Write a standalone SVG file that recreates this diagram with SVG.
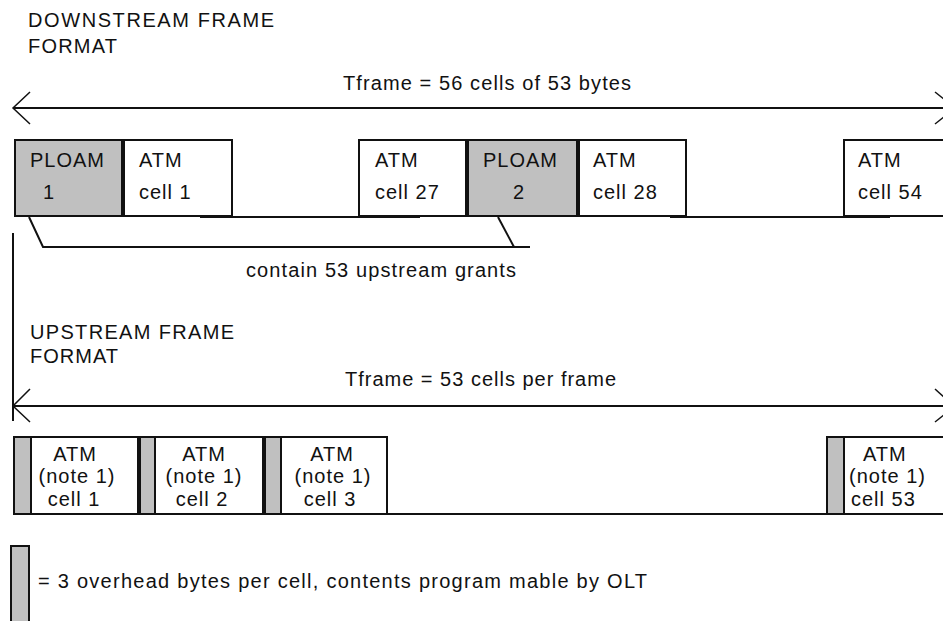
<svg xmlns="http://www.w3.org/2000/svg" width="943" height="621" viewBox="0 0 943 621">
<style>
text{font-family:"Liberation Sans",Arial,sans-serif;font-size:20px;fill:#111;letter-spacing:1px}
.box{fill:#fff;stroke:#111;stroke-width:2}
.oh{fill:#c0c0c0;stroke:#111;stroke-width:2}
.ln{stroke:#111;stroke-width:2;fill:none}
.thin{stroke:#111;stroke-width:1.5;fill:none}
.mid{text-anchor:middle}
</style>
<rect width="943" height="621" fill="#fff"/>
<g id="titles">
<text x="28" y="27" textLength="247" lengthAdjust="spacing">DOWNSTREAM FRAME</text>
<text x="28" y="53" textLength="90" lengthAdjust="spacing">FORMAT</text>
<text x="30" y="339" textLength="205" lengthAdjust="spacing">UPSTREAM FRAME</text>
<text x="30" y="363" textLength="89" lengthAdjust="spacing">FORMAT</text>
</g>
<g id="connectors">
<line class="ln" x1="13" y1="108" x2="945" y2="108"/>
<polyline class="thin" points="30,92 13,108 30,124"/>
<polyline class="thin" points="935,92 945,100"/>
<polyline class="thin" points="935,124 945,116"/>
<text x="343" y="90" textLength="289" lengthAdjust="spacing">Tframe = 56 cells of 53 bytes</text>
<line class="ln" x1="200" y1="217" x2="420" y2="217"/>
<line class="ln" x1="670" y1="217" x2="890" y2="217"/>
<polyline class="ln" points="29,217 43,247 530,247"/>
<line class="ln" x1="498" y1="217" x2="514" y2="247"/>
<text x="246" y="277" textLength="271" lengthAdjust="spacing">contain 53 upstream grants</text>
<line class="ln" x1="13" y1="233" x2="13" y2="421"/>
<line class="ln" x1="13" y1="406" x2="945" y2="406"/>
<polyline class="thin" points="30,389 13,406 30,422"/>
<polyline class="thin" points="935,389 945,398"/>
<polyline class="thin" points="935,422 945,414"/>
<text x="345" y="386" textLength="272" lengthAdjust="spacing">Tframe = 53 cells per frame</text>
<line class="ln" x1="325" y1="514" x2="843" y2="514"/>
</g>
<g id="ploam1">
<rect class="oh" x="15" y="140" width="107" height="76"/>
<text x="30" y="167">PLOAM</text>
<text x="43" y="199">1</text>
</g>
<g id="atm1">
<rect class="box" x="124" y="140" width="108" height="76"/>
<text x="139" y="167">ATM</text>
<text x="139" y="199">cell 1</text>
</g>
<g id="atm27">
<rect class="box" x="359" y="140" width="107" height="76"/>
<text x="375" y="167">ATM</text>
<text x="375" y="199">cell 27</text>
</g>
<g id="ploam2">
<rect class="oh" x="468" y="140" width="109" height="76"/>
<text x="483" y="167">PLOAM</text>
<text x="513" y="199">2</text>
</g>
<g id="atm28">
<rect class="box" x="579" y="140" width="107" height="76"/>
<text x="593" y="167">ATM</text>
<text x="593" y="199">cell 28</text>
</g>
<g id="atm54">
<rect class="box" x="844" y="140" width="110" height="76"/>
<text x="858" y="167">ATM</text>
<text x="858" y="199">cell 54</text>
</g>
<g id="up1">
<rect class="oh" x="14" y="437" width="17" height="77"/>
<rect class="box" x="31" y="437" width="107" height="77"/>
<text class="mid" x="75" y="461">ATM</text>
<text class="mid" x="77" y="483">(note 1)</text>
<text class="mid" x="74" y="506">cell 1</text>
</g>
<g id="up2">
<rect class="oh" x="140" y="437" width="15" height="77"/>
<rect class="box" x="155" y="437" width="108" height="77"/>
<text class="mid" x="204" y="461">ATM</text>
<text class="mid" x="204" y="483">(note 1)</text>
<text class="mid" x="202" y="506">cell 2</text>
</g>
<g id="up3">
<rect class="oh" x="265" y="437" width="16" height="77"/>
<rect class="box" x="281" y="437" width="106" height="77"/>
<text class="mid" x="332" y="461">ATM</text>
<text class="mid" x="333" y="483">(note 1)</text>
<text class="mid" x="330" y="506">cell 3</text>
</g>
<g id="up53">
<rect class="oh" x="827" y="437" width="17" height="77"/>
<rect class="box" x="844" y="437" width="110" height="77"/>
<text x="863" y="461">ATM</text>
<text x="849" y="483">(note 1)</text>
<text x="851" y="506">cell 53</text>
</g>
<g id="legend">
<rect class="oh" x="11" y="546" width="18" height="80"/>
<text x="38" y="588" textLength="610" lengthAdjust="spacing">= 3 overhead bytes per cell, contents program mable by OLT</text>
</g>
</svg>
